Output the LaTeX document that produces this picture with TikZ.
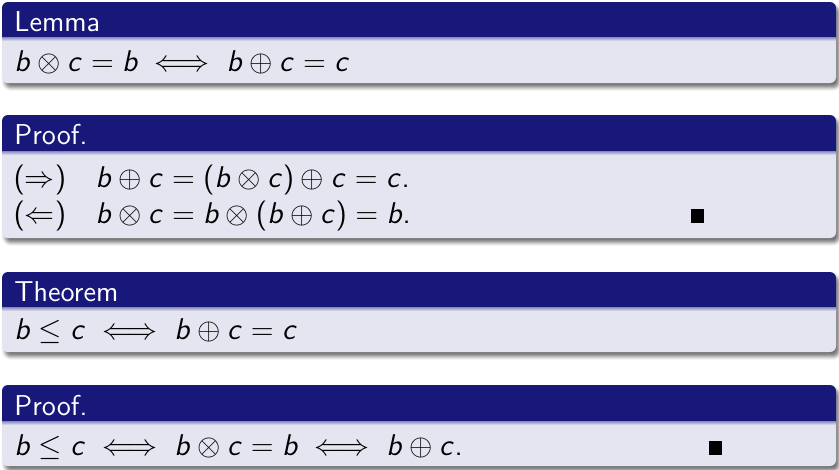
\documentclass[tikz,border=0pt]{standalone}
\usepackage{amsmath, amssymb}
\usepackage{xcolor}
\usepackage{tikz}
\usetikzlibrary{shadows.blur}

\renewcommand{\familydefault}{\sfdefault}
\SetSymbolFont{operators}{normal}{OT1}{cmss}{m}{n}
\DeclareSymbolFont{sfletters}{OT1}{cmss}{m}{sl}
\DeclareMathSymbol{b}{\mathalpha}{sfletters}{`b}
\DeclareMathSymbol{c}{\mathalpha}{sfletters}{`c}
\DeclareMathSymbol{.}{\mathord}{operators}{`.}

\definecolor{titlebg}{RGB}{24,24,122}
\definecolor{bodybg}{RGB}{229,229,242}

\begin{document}
\begin{tikzpicture}[x=0.4pt, y=-0.4pt, font=\fontsize{11.5}{13.5}\selectfont,
        every node/.style={inner sep=0pt, anchor=base west},
        blocktitle/.style={text=white},
        qedbox/.style={inner sep=0pt}]
    \useasboundingbox (0,0) rectangle (839,469);
    \foreach \t/\m/\b in {2/37/83, 115/151/238, 272/307/352, 385/421/466}{
        \fill[bodybg, rounded corners=2.4pt, blur shadow={shadow xshift=1.2pt,
            shadow yshift=-1.8pt, shadow blur radius=1.4pt, shadow opacity=55}]
            (2,\t) rectangle (836,\b);
        \begin{scope}
            \clip (0,\t) rectangle (839,\m);
            \fill[titlebg, rounded corners=2.4pt] (2,\t) rectangle (836,\b);
        \end{scope}
        \shade[top color=titlebg!45!bodybg, bottom color=bodybg]
            (2,\m) rectangle (836,{\m+4});
    }

    \node[blocktitle] (lemmaT) at (14,31) {Lemma};
    \node (lemmaB) at (14,71) {$b \otimes c = b \iff b \oplus c = c$};

    \node[blocktitle] (proofT) at (14,144) {Proof.};
    \node (proofL) at (13,187) {$(\Rightarrow)$};
    \node (proofLf) at (95,187) {$b \oplus c = (b \otimes c) \oplus c = c.$};
    \node (proofR) at (13,223) {$(\Leftarrow)$};
    \node (proofRf) at (95,223) {$b \otimes c = b \otimes (b \oplus c) = b.$};
    \node[qedbox] (qedA) at (690,223) {\rule{5.5pt}{5.5pt}};

    \node[blocktitle] (thmT) at (14,301) {Theorem};
    \node (thmB) at (14,339) {$b \le c \iff b \oplus c = c$};

    \node[blocktitle] (proof2T) at (14,415) {Proof.};
    \node (proof2B) at (14,455) {$b \le c \iff b \otimes c = b \iff b \oplus c.$};
    \node[qedbox] (qedB) at (708,455) {\rule{5.5pt}{5.5pt}};
\end{tikzpicture}
\end{document}
